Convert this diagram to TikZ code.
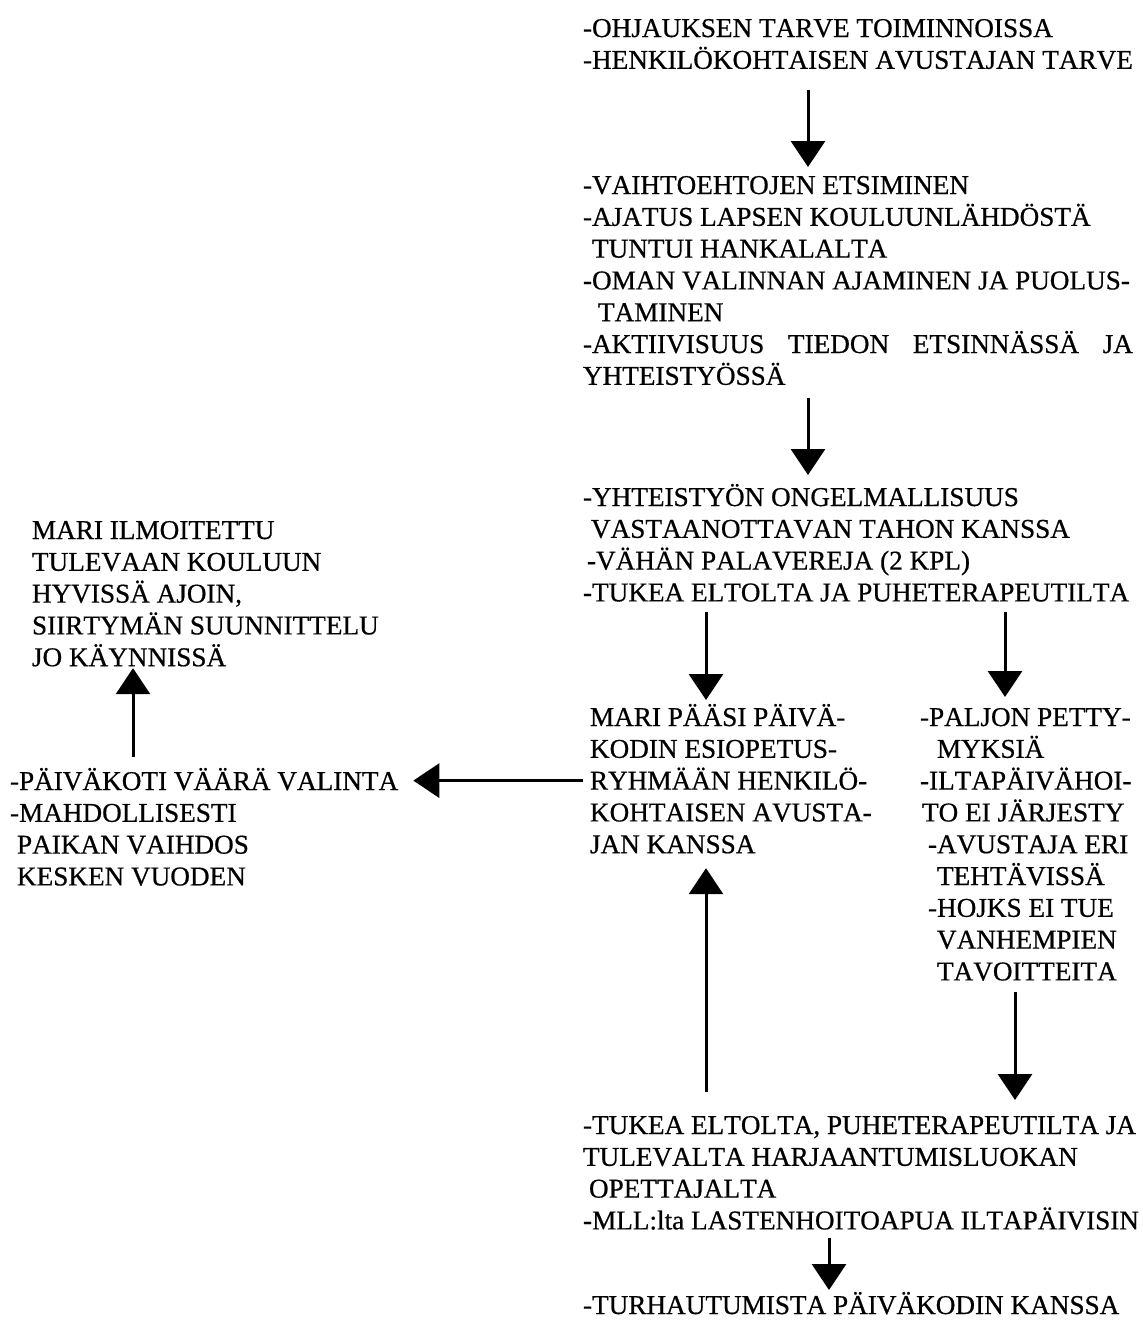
\documentclass[tikz,border=0pt]{standalone}
\usepackage{fontspec}
\setmainfont[Kerning=Off,FakeBold=0.6]{Liberation Serif}
\usetikzlibrary{arrows.meta,calc}

% top strut of the first line, depth strut of the last line
\newcommand\topst{\rule{0pt}{26pt}}
\newcommand\botst{\rule[-8pt]{0pt}{8pt}}
\newcommand\ind[1]{\hspace*{#1pt}}

\begin{document}
\begin{tikzpicture}[x=1pt,y=-1pt,
  txt/.style={anchor=north west,inner sep=0pt,outer sep=0pt,align=left,
    font=\fontsize{27.2}{31.8}\selectfont},
  flow/.style={line width=3pt,-{Triangle[width=34pt,length=26pt]}}]
\useasboundingbox (0,0) rectangle (1143,1323);

% columns of the connectors
\coordinate (colA) at (808,0);
\coordinate (colB) at (706,0);
\coordinate (colC) at (1005,0);
\coordinate (colD) at (1015,0);
\coordinate (colE) at (133,0);
\coordinate (colF) at (829,0);

\node[txt] (need) at (583,11) {\topst-OHJAUKSEN TARVE TOIMINNOISSA\\
  -HENKILÖKOHTAISEN AVUSTAJAN TARVE\botst};

\node[txt] (search) at (583,168) {\topst-VAIHTOEHTOJEN ETSIMINEN\\
  -AJATUS LAPSEN KOULUUNLÄHDÖSTÄ\\
  \ind{9}TUNTUI HANKALALTA\\
  -OMAN VALINNAN AJAMINEN JA PUOLUS-\\
  \ind{15}TAMINEN\\
  \hbox to 550pt{-AKTIIVISUUS\hfill TIEDON\hfill ETSINNÄSSÄ\hfill JA}\\
  YHTEISTYÖSSÄ\botst};

\node[txt] (coop) at (583,480) {\topst-YHTEISTYÖN ONGELMALLISUUS\\
  \ind{8}VASTAANOTTAVAN TAHON KANSSA\\
  \ind{4}-VÄHÄN PALAVEREJA (2 KPL)\\
  -TUKEA ELTOLTA JA PUHETERAPEUTILTA\botst};

\node[txt] (mari) at (590,700) {\topst MARI PÄÄSI PÄIVÄ-\\
  KODIN ESIOPETUS-\\
  RYHMÄÄN HENKILÖ-\\
  KOHTAISEN AVUSTA-\\
  JAN KANSSA\botst};

\node[txt] (disap) at (920,700) {\topst-PALJON PETTY-\\
  \ind{17}MYKSIÄ\\
  -ILTAPÄIVÄHOI-\\
  \ind{2}TO EI JÄRJESTY\\
  \ind{8}-AVUSTAJA ERI\\
  \ind{17}TEHTÄVISSÄ\\
  \ind{8}-HOJKS EI TUE\\
  \ind{17}VANHEMPIEN\\
  \ind{17}TAVOITTEITA\botst};

\node[txt] (wrong) at (10,764) {\topst-PÄIVÄKOTI VÄÄRÄ VALINTA\\
  -MAHDOLLISESTI\\
  \ind{7}PAIKAN VAIHDOS\\
  \ind{7}KESKEN VUODEN\botst};

\node[txt] (school) at (32,513) {\topst MARI ILMOITETTU\\
  TULEVAAN KOULUUN\\
  HYVISSÄ AJOIN,\\
  SIIRTYMÄN SUUNNITTELU\\
  JO KÄYNNISSÄ\botst};

\node[txt] (support) at (583,1108) {\topst-TUKEA ELTOLTA, PUHETERAPEUTILTA JA\\
  TULEVALTA HARJAANTUMISLUOKAN\\
  \ind{6}OPETTAJALTA\\
  -MLL:lta LASTENHOITOAPUA ILTAPÄIVISIN\botst};

\node[txt] (frust) at (583,1288) {\topst-TURHAUTUMISTA PÄIVÄKODIN KANSSA};

% connectors
\draw[flow] ($(need.south -| colA)+(0,13)$) -- ($(search.north -| colA)+(0,-1)$);
\draw[flow] ($(search.south -| colA)+(0,5)$) -- ($(coop.north -| colA)+(0,-5)$);
\draw[flow] ($(coop.south -| colB)+(0,3)$) -- (mari.north -| colB);
\draw[flow] ($(coop.south -| colC)+(0,3)$) -- ($(disap.north -| colC)+(0,-3)$);
\draw[flow] ($(disap.south -| colD)+(0,4)$) -- ($(support.north -| colD)+(0,-8)$);
\draw[flow] ($(support.north -| colB)+(0,-16)$) -- ($(mari.south -| colB)+(0,7)$);
\coordinate (hs) at ($(mari.north west)+(-7,80.6)$);
\draw[flow] (hs) -- ($(hs -| wrong.east)+(15,0)$);
\draw[flow] ($(wrong.north -| colE)+(0,-7)$) -- ($(school.south -| colE)+(0,-6)$);
\draw[flow] ($(support.south -| colF)+(0,1)$) -- ($(frust.north -| colF)+(0,2)$);
\end{tikzpicture}
\end{document}
